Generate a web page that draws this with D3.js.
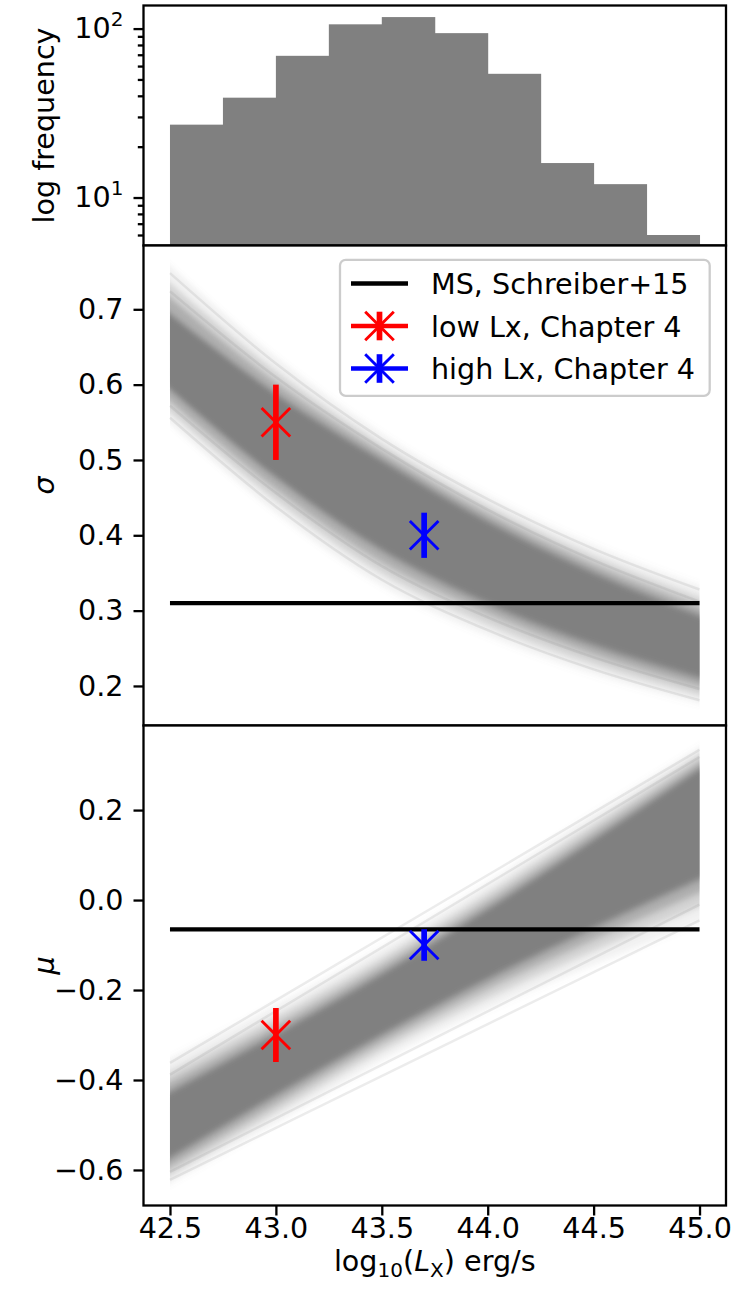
<!DOCTYPE html>
<html>
<head>
<meta charset="utf-8">
<script src="https://cdn.jsdelivr.net/npm/d3@7"></script>
<style>
  body { margin: 0; background: #fff; }
  text { font-family: "DejaVu Sans", sans-serif; }
</style>
</head>
<body>
<svg id="fig" width="733" height="1297"></svg>
<script>
// ---------- data ----------
const histEdges = [42.5, 42.75, 43.0, 43.25, 43.5, 43.75, 44.0, 44.25, 44.5, 44.75, 45.0];
const histCounts = [27, 39, 69, 106, 117, 94, 54, 16, 12, 6];
const histMajorTicks = [10, 100];
const histMinorTicks = [6, 7, 8, 9, 20, 30, 40, 50, 60, 70, 80, 90];

const xTicks = [42.5, 43.0, 43.5, 44.0, 44.5, 45.0];
const sigmaTicks = [0.2, 0.3, 0.4, 0.5, 0.6, 0.7];
const muTicks = [-0.6, -0.4, -0.2, 0.0, 0.2];

// posterior curves, summarised as envelopes (outer -> inner) on this Lx grid
const lxGrid = [42.5, 43.0, 43.5, 44.0, 44.5, 45.0];
const sigmaHi = [
  [0.758, 0.637, 0.535, 0.453, 0.387, 0.333],
  [0.735, 0.618, 0.521, 0.440, 0.373, 0.318],
  [0.716, 0.603, 0.511, 0.430, 0.362, 0.306],
  [0.694, 0.588, 0.500, 0.419, 0.351, 0.294]
];
const sigmaLo = [
  [0.548, 0.430, 0.333, 0.267, 0.216, 0.177],
  [0.563, 0.446, 0.349, 0.281, 0.228, 0.187],
  [0.578, 0.461, 0.364, 0.296, 0.241, 0.198],
  [0.594, 0.477, 0.380, 0.309, 0.254, 0.210]
];
const muHi = [
  [-0.352, -0.233, -0.105, 0.039, 0.193, 0.340],
  [-0.381, -0.259, -0.128, 0.016, 0.170, 0.325],
  [-0.404, -0.279, -0.146, -0.002, 0.152, 0.308],
  [-0.426, -0.298, -0.164, -0.020, 0.134, 0.292]
];
const muLo = [
  [-0.630, -0.496, -0.357, -0.243, -0.144, -0.050],
  [-0.614, -0.473, -0.336, -0.219, -0.114, -0.015],
  [-0.594, -0.454, -0.318, -0.197, -0.088, 0.016],
  [-0.574, -0.434, -0.300, -0.176, -0.062, 0.046]
];
// a few single faint draws that stand out of the envelopes
const sigmaStreaks = [
  [0.748, 0.628, 0.528, 0.448, 0.382, 0.328],
  [0.724, 0.610, 0.515, 0.434, 0.367, 0.312],
  [0.556, 0.438, 0.341, 0.274, 0.222, 0.181],
  [0.572, 0.456, 0.359, 0.291, 0.238, 0.196]
];
const muStreakEnds = [   // value at 42.5, value at 45.0
  [-0.362, 0.334],
  [-0.388, 0.318],
  [-0.622, -0.045],
  [-0.604, -0.010]
];

// reference values
const msSigma = 0.31;
const msMu = -0.065;
const refLabels = ["MS, Schreiber+15", "low Lx, Chapter 4", "high Lx, Chapter 4"];
const refLx = [43.0, 43.7];
const refSigma = [0.55, 0.40];
const refSigmaErr = [0.05, 0.03];
const refMu = [-0.30, -0.10];
const refMuErr = [0.06, 0.035];
const refColors = ["red", "blue"];

// ---------- layout ----------
const fs = 28.6;           // 10pt
const lw = 2.3;            // spine width
const axL = 143.5, axR = 726;
const tops = [5.5, 245.5, 725.5], bots = [245.5, 725.5, 1205.5];
const bandGray = "#808080";
const bandOpacity = [0.11, 0.26, 0.45, 1];

const svg = d3.select("#fig");
svg.append("rect").attr("width", 733).attr("height", 1297).attr("fill", "#fff");
svg.append("defs").append("filter")
  .attr("id", "soft").attr("x", "-5%").attr("y", "-20%").attr("width", "110%").attr("height", "140%")
  .append("feGaussianBlur").attr("stdDeviation", "0 3.5");

const x = d3.scaleLinear().domain([42.375, 45.125]).range([axL, axR]);
const yHist = d3.scaleLog().domain([5.2, 137]).range([bots[0], tops[0]]);
const ySig = d3.scaleLinear().domain([0.1475, 0.7847]).range([bots[1], tops[1]]);
const yMu = d3.scaleLinear().domain([-0.679, 0.388]).range([bots[2], tops[2]]);

function styleAxis(g) {
  g.attr("font-size", fs).attr("font-family", "DejaVu Sans");
  g.select(".domain").remove();
  g.selectAll(".tick line").attr("stroke-width", lw);
}
function frame(i) {
  svg.append("rect")
    .attr("x", axL).attr("y", tops[i])
    .attr("width", axR - axL).attr("height", bots[i] - tops[i])
    .attr("fill", "none").attr("stroke", "#000").attr("stroke-width", lw);
}
const fmt = d => (d < 0 ? "\u2212" : "") + Math.abs(d).toFixed(1);

// ---------- top: histogram ----------
const hg = svg.append("g");
hg.selectAll("rect.bar")
  .data(histCounts)
  .enter()
  .append("rect")
  .attr("class", "bar")
  .attr("x", (d, i) => x(histEdges[i]))
  .attr("width", (d, i) => x(histEdges[i + 1]) - x(histEdges[i]) + 0.5)
  .attr("y", d => yHist(d))
  .attr("height", d => bots[0] - yHist(d))
  .attr("fill", bandGray);

const hAxis = hg.append("g")
  .attr("transform", "translate(" + axL + ",0)")
  .call(d3.axisLeft(yHist).tickValues(histMajorTicks).tickSize(10).tickPadding(10).tickFormat(""))
  .call(styleAxis);
hAxis.selectAll(".tick text")
  .attr("dy", "0.32em")
  .each(function(d) {
    const t = d3.select(this);
    t.append("tspan").text("10");
    t.append("tspan").attr("font-size", fs * 0.7).attr("dy", "-0.62em").text(Math.round(Math.log10(d)));
  });
hg.append("g")
  .attr("transform", "translate(" + axL + ",0)")
  .call(d3.axisLeft(yHist).tickValues(histMinorTicks).tickSize(5.7).tickFormat(""))
  .call(styleAxis);
svg.append("text")
  .attr("transform", "translate(54," + (tops[0] + bots[0]) / 2 + ") rotate(-90)")
  .attr("text-anchor", "middle").attr("font-size", fs)
  .text("log frequency");
frame(0);

// ---------- panels with posterior bands ----------
function bandPanel(i, y, hiSets, loSets, streaks, msVal, vals, errs) {
  const g = svg.append("g");
  g.append("rect").attr("x", axL).attr("y", tops[i])
    .attr("width", axR - axL).attr("height", bots[i] - tops[i]).attr("fill", "#fff");

  const bands = g.append("g").attr("filter", "url(#soft)");
  hiSets.forEach((hi, k) => {
    const lo = loSets[k];
    const area = d3.area()
      .x((d, j) => x(lxGrid[j]))
      .y0((d, j) => y(lo[j]))
      .y1(d => y(d))
      .curve(d3.curveMonotoneX);
    bands.append("path").attr("d", area(hi))
      .attr("fill", bandGray).attr("fill-opacity", bandOpacity[k]);
  });
  streaks.forEach(s => {
    g.append("path").attr("d", s)
      .attr("fill", "none").attr("stroke", bandGray)
      .attr("stroke-width", 2.5).attr("stroke-opacity", 0.15);
  });

  g.append("line")
    .attr("x1", x(lxGrid[0])).attr("x2", x(lxGrid[lxGrid.length - 1]))
    .attr("y1", y(msVal)).attr("y2", y(msVal))
    .attr("stroke", "#000").attr("stroke-width", 4.3);

  vals.forEach((v, k) => {
    const cx = x(refLx[k]), cy = y(v), c = refColors[k], r = 14.3;
    g.append("line").attr("x1", cx).attr("x2", cx)
      .attr("y1", y(v - errs[k])).attr("y2", y(v + errs[k]))
      .attr("stroke", c).attr("stroke-width", 5.7);
    g.append("path")
      .attr("d", `M${cx - r},${cy - r}L${cx + r},${cy + r}M${cx - r},${cy + r}L${cx + r},${cy - r}`)
      .attr("stroke", c).attr("stroke-width", 2.9).attr("fill", "none");
  });
  return g;
}

const sigLine = d3.line().x((d, j) => x(lxGrid[j])).y(d => ySig(d)).curve(d3.curveMonotoneX);
const gS = bandPanel(1, ySig, sigmaHi, sigmaLo, sigmaStreaks.map(s => sigLine(s)),
  msSigma, refSigma, refSigmaErr);
gS.append("g")
  .attr("transform", "translate(" + axL + ",0)")
  .call(d3.axisLeft(ySig).tickValues(sigmaTicks).tickSize(10).tickPadding(10).tickFormat(fmt))
  .call(styleAxis);
svg.append("text")
  .attr("transform", "translate(54," + (tops[1] + bots[1]) / 2 + ") rotate(-90)")
  .attr("text-anchor", "middle").attr("font-size", fs).attr("font-style", "italic")
  .text("\u03c3");

// legend
const lg = svg.append("g");
lg.append("rect")
  .attr("x", 340).attr("y", 259.8).attr("width", 369.7).attr("height", 136)
  .attr("rx", 5.7).attr("fill", "#fff").attr("fill-opacity", 0.8)
  .attr("stroke", "#cccccc").attr("stroke-width", 2.3);
const rowY = [283.5, 326, 368.5];
const hx0 = 351, hx1 = 408;
refLabels.forEach((lab, k) => {
  const yy = rowY[k];
  const c = k === 0 ? "#000" : refColors[k - 1];
  lg.append("line").attr("x1", hx0).attr("x2", hx1).attr("y1", yy).attr("y2", yy)
    .attr("stroke", c).attr("stroke-width", 4.3);
  if (k > 0) {
    const cx = (hx0 + hx1) / 2, r = 14.3;
    lg.append("line").attr("x1", cx).attr("x2", cx).attr("y1", yy - r).attr("y2", yy + r)
      .attr("stroke", c).attr("stroke-width", 5.7);
    lg.append("path")
      .attr("d", `M${cx - r},${yy - r}L${cx + r},${yy + r}M${cx - r},${yy + r}L${cx + r},${yy - r}`)
      .attr("stroke", c).attr("stroke-width", 2.9).attr("fill", "none");
  }
  lg.append("text").attr("x", 431).attr("y", yy + 10.5).attr("font-size", fs).text(lab);
});
frame(1);

const muLine = d3.line().x(d => x(d[0])).y(d => yMu(d[1]));
const gM = bandPanel(2, yMu, muHi, muLo,
  muStreakEnds.map(s => muLine([[lxGrid[0], s[0]], [lxGrid[lxGrid.length - 1], s[1]]])),
  msMu, refMu, refMuErr);
gM.append("g")
  .attr("transform", "translate(" + axL + ",0)")
  .call(d3.axisLeft(yMu).tickValues(muTicks).tickSize(10).tickPadding(10).tickFormat(fmt))
  .call(styleAxis);
gM.append("g")
  .attr("transform", "translate(0," + bots[2] + ")")
  .call(d3.axisBottom(x).tickValues(xTicks).tickSize(10).tickPadding(2).tickFormat(d => d.toFixed(1)))
  .call(styleAxis);
svg.append("text")
  .attr("transform", "translate(54," + (tops[2] + bots[2]) / 2 + ") rotate(-90)")
  .attr("text-anchor", "middle").attr("font-size", fs).attr("font-style", "italic")
  .text("\u03bc");
frame(2);

// x label: log10(L_X) erg/s
const xl = svg.append("text")
  .attr("x", (axL + axR) / 2).attr("y", 1271)
  .attr("text-anchor", "middle").attr("font-size", fs);
xl.append("tspan").text("log");
xl.append("tspan").attr("font-size", fs * 0.7).attr("dy", 6).text("10");
xl.append("tspan").attr("dy", -6).text("(");
xl.append("tspan").attr("font-style", "italic").text("L");
xl.append("tspan").attr("font-size", fs * 0.7).attr("dy", 6).text("X");
xl.append("tspan").attr("dy", -6).text(") erg/s");
</script>
</body>
</html>
